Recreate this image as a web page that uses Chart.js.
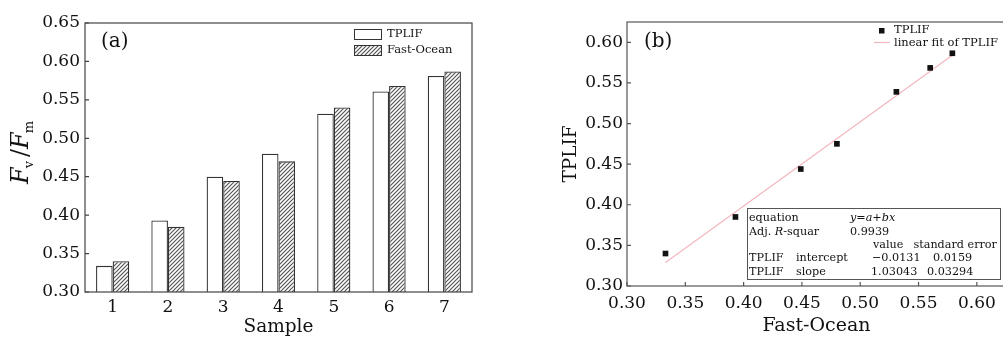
<!DOCTYPE html>
<html><head><meta charset="utf-8">
<script src="https://cdn.jsdelivr.net/npm/chart.js@4/dist/chart.umd.min.js"></script>
<style>
html,body{margin:0;padding:0;background:#fff;overflow:hidden;width:1003px;height:337px;}
#wa{position:absolute;left:0;top:0;width:500px;height:337px;}
#wb{position:absolute;left:500px;top:0;width:530px;height:337px;}
</style></head><body>
<div id="wa"><canvas id="ca"></canvas></div>
<div id="wb"><canvas id="cb"></canvas></div>
<script>
// ---- Panel (a) data ----
const samples = ['1','2','3','4','5','6','7'];
const tplif = [0.334, 0.393, 0.450, 0.480, 0.532, 0.561, 0.581];
const fastOcean = [0.340, 0.385, 0.4445, 0.470, 0.540, 0.568, 0.587];
const aYTicks = [0.30, 0.35, 0.40, 0.45, 0.50, 0.55, 0.60, 0.65];
// ---- Panel (b) data ----
const bFast = [0.333, 0.393, 0.449, 0.480, 0.531, 0.560, 0.579];
const bTplif = [0.340, 0.385, 0.444, 0.475, 0.539, 0.5685, 0.5865];
const fitX = [0.333, 0.579];
const fitY = [0.329, 0.584];
const bXTicks = [0.30, 0.35, 0.40, 0.45, 0.50, 0.55, 0.60];
const bYTicks = [0.30, 0.35, 0.40, 0.45, 0.50, 0.55, 0.60];
const fitEquation = 'y=a+bx';
const fitAdjR2 = '0.9939';
const fitIntercept = ['\u22120.0131', '0.0159'];
const fitSlope = ['1.03043', '0.03294'];

const SERIF = '"DejaVu Serif", "Liberation Serif", serif';
const INK = '#111';

function hatch() {
  const c = document.createElement('canvas');
  c.width = 4; c.height = 4;
  const g = c.getContext('2d');
  g.fillStyle = '#fff'; g.fillRect(0,0,4,4);
  g.strokeStyle = '#555'; g.lineWidth = 1.2;
  g.beginPath();
  g.moveTo(-1,5); g.lineTo(5,-1);
  g.moveTo(-1,1); g.lineTo(1,-1);
  g.moveTo(3,5); g.lineTo(5,3);
  g.stroke();
  return g.createPattern(c, 'repeat');
}
const hatchPat = hatch();

function frameAndTicks(chart, xTicks, yTicks, color) {
  const {ctx, chartArea: a, scales} = chart;
  ctx.save();
  ctx.strokeStyle = color; ctx.lineWidth = 1.2;
  ctx.strokeRect(a.left, a.top, a.right - a.left, a.bottom - a.top);
  ctx.beginPath();
  (yTicks||[]).forEach(v => { const y = scales.y.getPixelForValue(v); ctx.moveTo(a.left, y); ctx.lineTo(a.left + 4, y); });
  (xTicks||[]).forEach(v => { const x = scales.x.getPixelForValue(v); ctx.moveTo(x, a.bottom); ctx.lineTo(x, a.bottom - 4); });
  ctx.stroke();
  ctx.restore();
}

const plugA = {
  id: 'plugA',
  afterDraw(chart) {
    frameAndTicks(chart, null, aYTicks, '#444');
    const ctx = chart.ctx;
    ctx.save();
    ctx.fillStyle = INK; ctx.textBaseline = 'middle'; ctx.textAlign = 'left';
    ctx.font = '20px ' + SERIF;
    ctx.fillText('(a)', 101, 42);
    // legend
    ctx.font = '11.5px ' + SERIF;
    ctx.strokeStyle = '#333'; ctx.lineWidth = 1;
    ctx.fillStyle = '#fff'; ctx.fillRect(354.5, 29.5, 27, 10); ctx.strokeRect(354.5, 29.5, 27, 10);
    ctx.fillStyle = hatchPat; ctx.fillRect(354.5, 45.5, 27, 10); ctx.strokeRect(354.5, 45.5, 27, 10);
    ctx.fillStyle = INK;
    ctx.fillText('TPLIF', 387, 34);
    ctx.fillText('Fast-Ocean', 387, 50);
    // y title F_v / F_m
    ctx.translate(28, 184);
    ctx.rotate(-Math.PI / 2);
    ctx.textBaseline = 'alphabetic';
    let x = 0;
    ctx.font = 'italic 24px ' + SERIF; ctx.fillText('F', x, 0); x += ctx.measureText('F').width - 1;
    ctx.font = '13px ' + SERIF; ctx.fillText('v', x, 5); x += ctx.measureText('v').width + 4;
    ctx.font = '24px ' + SERIF; ctx.fillText('/', x, 0); x += ctx.measureText('/').width;
    ctx.font = 'italic 24px ' + SERIF; ctx.fillText('F', x, 0); x += ctx.measureText('F').width - 1;
    ctx.font = '13px ' + SERIF; ctx.fillText('m', x, 5);
    ctx.restore();
  }
};

const plugB = {
  id: 'plugB',
  afterDraw(chart) {
    frameAndTicks(chart, bXTicks, bYTicks, '#555');
    const ctx = chart.ctx;
    ctx.save();
    ctx.fillStyle = INK; ctx.textBaseline = 'middle'; ctx.textAlign = 'left';
    ctx.font = '20px ' + SERIF;
    ctx.fillText('(b)', 144, 42);
    // legend
    ctx.font = '11.5px ' + SERIF;
    ctx.fillStyle = '#111'; ctx.fillRect(379, 28, 5.5, 5.5);
    ctx.strokeStyle = '#f2b6be'; ctx.lineWidth = 1.2;
    ctx.beginPath(); ctx.moveTo(374, 42.5); ctx.lineTo(390, 42.5); ctx.stroke();
    ctx.fillStyle = INK;
    ctx.fillText('TPLIF', 394, 30);
    ctx.fillText('linear fit of TPLIF', 394, 43);
    // table
    ctx.strokeStyle = '#555'; ctx.lineWidth = 1;
    ctx.strokeRect(247.5, 208.5, 253, 71);
    const F = '11.2px ' + SERIF, FI = 'italic 11.2px ' + SERIF;
    ctx.font = F;
    const rows = [218.5, 231.8, 245, 258.3, 271.6];
    ctx.fillText('equation', 249, rows[0]);
    ctx.font = FI; ctx.fillText(fitEquation, 350, rows[0]);
    ctx.font = F;
    let x = 249; ctx.fillText('Adj. ', x, rows[1]); x += ctx.measureText('Adj. ').width;
    ctx.font = FI; ctx.fillText('R', x, rows[1]); x += ctx.measureText('R').width;
    ctx.font = F; ctx.fillText('-squar', x, rows[1]);
    ctx.fillText(fitAdjR2, 350, rows[1]);
    ctx.fillText('value', 373, rows[2]);
    ctx.fillText('standard error', 413.5, rows[2]);
    ctx.fillText('TPLIF', 249, rows[3]); ctx.fillText('intercept', 296, rows[3]);
    ctx.fillText(fitIntercept[0], 372, rows[3]); ctx.fillText(fitIntercept[1], 433, rows[3]);
    ctx.fillText('TPLIF', 249, rows[4]); ctx.fillText('slope', 296, rows[4]);
    ctx.fillText(fitSlope[0], 371, rows[4]); ctx.fillText(fitSlope[1], 427, rows[4]);
    ctx.restore();
  }
};

const tickFont = {family: SERIF, size: 17};

new Chart(document.getElementById('ca'), {
  type: 'bar',
  data: {
    labels: samples,
    datasets: [
      {label: 'TPLIF', data: tplif, backgroundColor: '#fff', borderColor: '#333', borderWidth: 1.3,
       categoryPercentage: 0.6, barPercentage: 1.0},
      {label: 'Fast-Ocean', data: fastOcean, backgroundColor: hatchPat, borderColor: '#333', borderWidth: 1.3,
       categoryPercentage: 0.6, barPercentage: 1.0}
    ]
  },
  options: {
    responsive: true, maintainAspectRatio: false, animation: false,
    layout: {padding: {left: 0, right: 28, top: 23, bottom: 0}},
    plugins: {legend: {display: false}, tooltip: {enabled: false}},
    scales: {
      x: {
        grid: {display: false, drawTicks: false}, border: {display: false},
        ticks: {font: tickFont, color: INK, padding: 5, maxRotation: 0, autoSkip: false},
        title: {display: true, text: 'Sample', font: {family: SERIF, size: 18.5}, color: INK, padding: {top: 0, bottom: -1}},
        afterFit(s) { s.height = 45; }
      },
      y: {
        min: 0.30, max: 0.65,
        grid: {display: false, drawTicks: false}, border: {display: false},
        afterBuildTicks(s) { s.ticks = aYTicks.map(v => ({value: v})); },
        ticks: {font: tickFont, color: INK, padding: 5, callback: v => Number(v).toFixed(2)},
        afterFit(s) { s.width = 85; }
      }
    }
  },
  plugins: [plugA]
});

new Chart(document.getElementById('cb'), {
  type: 'scatter',
  data: {
    datasets: [
      {label: 'linear fit of TPLIF', data: fitX.map((x, i) => ({x, y: fitY[i]})), showLine: true,
       borderColor: '#f2b6be', borderWidth: 1.2, pointRadius: 0, order: 2},
      {label: 'TPLIF', data: bFast.map((x, i) => ({x, y: bTplif[i]})), pointStyle: 'rect', pointRadius: 4,
       backgroundColor: '#111', borderColor: '#111', borderWidth: 0, order: 1}
    ]
  },
  options: {
    responsive: true, maintainAspectRatio: false, animation: false,
    layout: {padding: {left: 0, right: 24, top: 22, bottom: 0}},
    plugins: {legend: {display: false}, tooltip: {enabled: false}},
    scales: {
      x: {
        type: 'linear', min: 0.30, max: 0.625,
        grid: {display: false, drawTicks: false}, border: {display: false},
        afterBuildTicks(s) { s.ticks = bXTicks.map(v => ({value: v})); },
        ticks: {font: tickFont, color: INK, padding: 7, maxRotation: 0, autoSkip: false, callback: v => Number(v).toFixed(2)},
        title: {display: true, text: 'Fast-Ocean', font: {family: SERIF, size: 19}, color: INK, padding: {top: 0, bottom: 0}},
        afterFit(s) { s.height = 51; }
      },
      y: {
        type: 'linear', min: 0.30, max: 0.625,
        grid: {display: false, drawTicks: false}, border: {display: false},
        afterBuildTicks(s) { s.ticks = bYTicks.map(v => ({value: v})); },
        ticks: {font: tickFont, color: INK, padding: 4, autoSkip: false, callback: v => Number(v).toFixed(2)},
        title: {display: true, text: 'TPLIF', font: {family: SERIF, size: 18.5}, color: INK, padding: {top: 60, bottom: 0}},
        afterFit(s) { s.width = 127; }
      }
    }
  },
  plugins: [plugB]
});
</script>
</body></html>
